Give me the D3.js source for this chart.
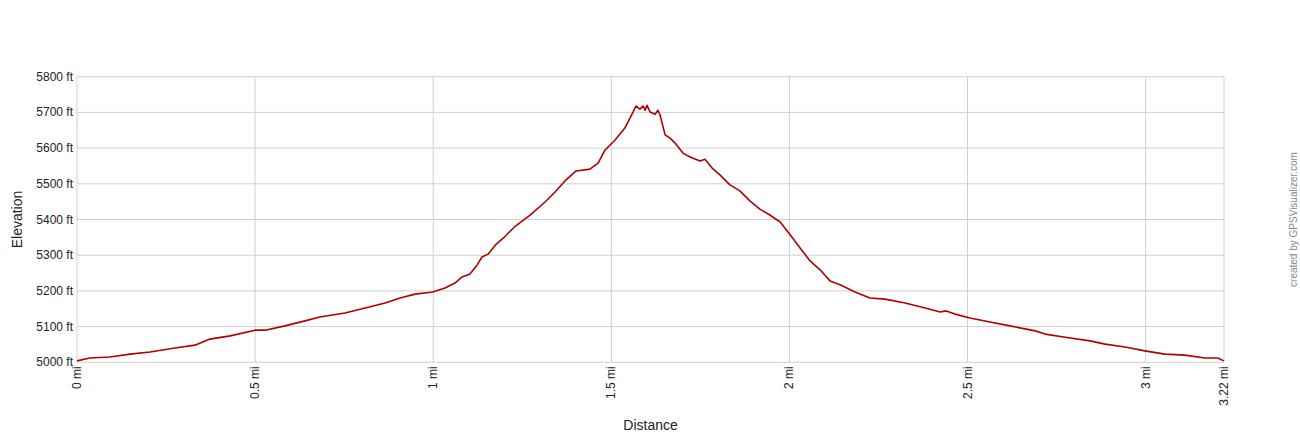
<!DOCTYPE html>
<html>
<head>
<meta charset="utf-8">
<script src="https://cdn.jsdelivr.net/npm/d3@7"></script>
<style>
  body { margin: 0; background: #fff; }
  svg text { font-family: "Liberation Sans", Arial, sans-serif; }
</style>
</head>
<body>
<svg id="chart" width="1300" height="440"></svg>
<script>
// distance along the trail (mi)
const distance = [0, 0.036, 0.093, 0.149, 0.205, 0.275, 0.331, 0.373, 0.430, 0.500,
  0.528, 0.584, 0.640, 0.682, 0.752, 0.809, 0.865, 0.907, 0.949, 0.999,
  1.033, 1.061, 1.081, 1.103, 1.123, 1.137, 1.154, 1.174, 1.202, 1.230,
  1.272, 1.314, 1.342, 1.370, 1.401, 1.440, 1.463, 1.482, 1.510, 1.538,
  1.561, 1.569, 1.580, 1.589, 1.595, 1.600, 1.609, 1.623, 1.631, 1.637,
  1.651, 1.665, 1.679, 1.701, 1.721, 1.749, 1.763, 1.783, 1.805, 1.833,
  1.861, 1.889, 1.917, 1.946, 1.974, 2.002, 2.030, 2.058, 2.086, 2.114,
  2.142, 2.184, 2.226, 2.268, 2.325, 2.381, 2.423, 2.440, 2.465, 2.507,
  2.563, 2.619, 2.690, 2.718, 2.788, 2.844, 2.886, 2.942, 2.998, 3.054,
  3.110, 3.166, 3.202, 3.22];

// elevation (ft)
const elevation = [5004, 5012, 5015, 5023, 5029, 5040, 5048, 5065, 5074, 5090,
  5090, 5102, 5116, 5127, 5138, 5152, 5166, 5180, 5191, 5197,
  5208, 5222, 5239, 5247, 5272, 5295, 5303, 5328, 5353, 5381,
  5412, 5449, 5477, 5508, 5536, 5541, 5558, 5594, 5622, 5656,
  5701, 5718, 5709, 5718, 5706, 5720, 5701, 5695, 5706, 5692,
  5637, 5628, 5614, 5586, 5575, 5564, 5569, 5544, 5525, 5497,
  5480, 5452, 5429, 5412, 5393, 5357, 5320, 5284, 5259, 5228,
  5217, 5197, 5180, 5177, 5166, 5152, 5141, 5144, 5135, 5124,
  5113, 5102, 5088, 5079, 5068, 5060, 5051, 5043, 5032, 5023,
  5020, 5012, 5012, 5004];

const xTicks = [0, 0.5, 1, 1.5, 2, 2.5, 3, 3.22];
const yTicks = [5000, 5100, 5200, 5300, 5400, 5500, 5600, 5700, 5800];

const points = distance.map((d, i) => ({ d: d, e: elevation[i] }));

const plotLeft = 77, plotRight = 1224, plotTop = 76.7, plotBottom = 362.3;
const svg = d3.select('#chart');

const x = d3.scaleLinear().domain([0, 3.22]).range([plotLeft, plotRight]);
const y = d3.scaleLinear().domain([5000, 5800]).range([plotBottom, plotTop]);

// grid lines
svg.append('g')
  .selectAll('line')
  .data(yTicks)
  .enter().append('line')
  .attr('x1', plotLeft).attr('x2', plotRight)
  .attr('y1', d => y(d)).attr('y2', d => y(d))
  .attr('stroke', '#d0d0d0').attr('stroke-width', 1);

svg.append('g')
  .selectAll('line')
  .data(xTicks)
  .enter().append('line')
  .attr('x1', d => x(d)).attr('x2', d => x(d))
  .attr('y1', plotTop).attr('y2', plotBottom)
  .attr('stroke', '#d0d0d0').attr('stroke-width', 1);

// y tick labels
svg.append('g')
  .selectAll('text')
  .data(yTicks)
  .enter().append('text')
  .attr('x', plotLeft - 4)
  .attr('y', d => y(d) + 4)
  .attr('text-anchor', 'end')
  .attr('font-size', 12)
  .attr('fill', '#222')
  .text(d => d + ' ft');

// x tick labels (rotated)
svg.append('g')
  .selectAll('text')
  .data(xTicks)
  .enter().append('text')
  .attr('transform', d => `translate(${x(d) + 4},${plotBottom + 4}) rotate(-90)`)
  .attr('text-anchor', 'end')
  .attr('font-size', 12)
  .attr('fill', '#222')
  .text(d => d + ' mi');

// elevation line
const line = d3.line()
  .x(d => x(d.d))
  .y(d => y(d.e));

svg.append('path')
  .datum(points)
  .attr('d', line)
  .attr('fill', 'none')
  .attr('stroke', '#b00000')
  .attr('stroke-width', 1.6)
  .attr('stroke-linejoin', 'round');

// axis titles
svg.append('text')
  .attr('x', (plotLeft + plotRight) / 2)
  .attr('y', 430)
  .attr('text-anchor', 'middle')
  .attr('font-size', 14)
  .attr('fill', '#222')
  .text('Distance');

svg.append('text')
  .attr('transform', `translate(22,${(plotTop + plotBottom) / 2}) rotate(-90)`)
  .attr('text-anchor', 'middle')
  .attr('font-size', 14)
  .attr('fill', '#222')
  .text('Elevation');

svg.append('text')
  .attr('transform', `translate(1297,${(plotTop + plotBottom) / 2}) rotate(-90)`)
  .attr('text-anchor', 'middle')
  .attr('font-size', 10)
  .attr('fill', '#888')
  .text('created by GPSVisualizer.com');
</script>
</body>
</html>
